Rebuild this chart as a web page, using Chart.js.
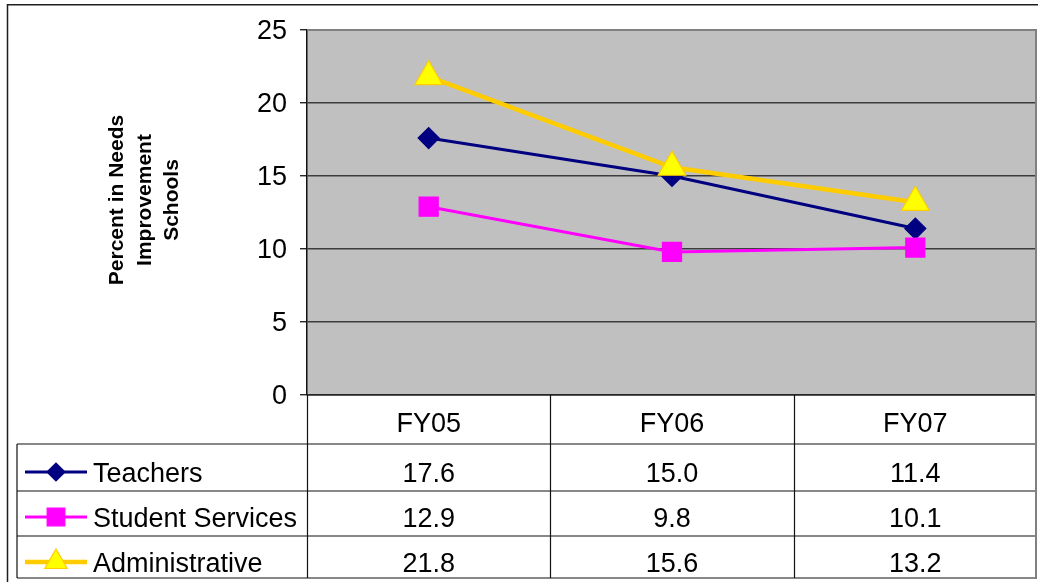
<!DOCTYPE html>
<html>
<head>
<meta charset="utf-8">
<script src="https://cdn.jsdelivr.net/npm/chart.js@4.4.1/dist/chart.umd.min.js"></script>
<style>
  html, body { margin: 0; padding: 0; background: #fff; overflow: hidden; }
  #wrap { width: 1038px; height: 582px; position: relative; }
  canvas { display: block; }
</style>
</head>
<body>
<div id="wrap"><canvas id="c" width="1038" height="582"></canvas></div>
<script>
// Fiscal years and the share of staff in Needs Improvement schools
const years = ['FY05', 'FY06', 'FY07'];
const teachers = [17.6, 15.0, 11.4];
const studentServices = [12.9, 9.8, 10.1];
const administrative = [21.8, 15.6, 13.2];
const seriesNames = ['Teachers', 'Student Services', 'Administrative'];
const yTicks = [0, 5, 10, 15, 20, 25];
const yTitle = ['Percent in Needs', 'Improvement', 'Schools'];

const FONT = '"Liberation Sans", Arial, Helvetica, sans-serif';
const PLOT_LEFT = 307;
const PLOT_RIGHT = 1037;

const seriesStyles = [
  { line: '#000080', fill: '#000080', border: '#000080', lineWidth: 3, style: 'rectRot', radius: 10.5, legendRadius: 9 },
  { line: '#FF00FF', fill: '#FF00FF', border: '#FF00FF', lineWidth: 3, style: 'rect', radius: 13.5, legendRadius: 12.5 },
  { line: '#FFCC00', fill: '#FFFF00', border: '#FFCC00', lineWidth: 4.5, style: 'triangle', radius: 16, legendRadius: 13 }
];
const seriesValues = [teachers, studentServices, administrative];

// Small marker painter for the legend column of the data table
function drawMarker(ctx, style, r, x, y, fill, border) {
  ctx.save();
  ctx.fillStyle = fill;
  ctx.strokeStyle = border;
  ctx.lineWidth = 1.2;
  ctx.beginPath();
  if (style === 'rectRot') {
    ctx.moveTo(x - r, y); ctx.lineTo(x, y - r); ctx.lineTo(x + r, y); ctx.lineTo(x, y + r);
  } else if (style === 'rect') {
    const s = Math.SQRT1_2 * r;
    ctx.rect(x - s, y - s, 2 * s, 2 * s);
  } else {
    const h = r * Math.sqrt(3) / 2;
    ctx.moveTo(x, y - r); ctx.lineTo(x + h, y + r / 2); ctx.lineTo(x - h, y + r / 2);
  }
  ctx.closePath();
  ctx.fill();
  ctx.stroke();
  ctx.restore();
}

// Offsets (px below the plot bottom) of table row edges and text baselines
const rowEdges = [49, 96, 141, 183];
const rowBaselines = [37, 87, 132, 177];
const legendLeft = 17;

const frameAndTable = {
  id: 'frameAndTable',
  beforeDraw(chart) {
    const { ctx, chartArea: a } = chart;
    ctx.save();
    ctx.fillStyle = '#ffffff';
    ctx.fillRect(0, 0, chart.width, chart.height);
    ctx.fillStyle = '#C0C0C0';
    ctx.fillRect(a.left, a.top, a.right - a.left, a.bottom - a.top);
    ctx.restore();
  },
  afterDraw(chart) {
    const { ctx, chartArea: a } = chart;
    const xs = chart.scales.x;
    const centers = years.map((_, i) => xs.getPixelForValue(i));
    const bounds = [a.left];
    for (let i = 0; i < centers.length - 1; i++) bounds.push((centers[i] + centers[i + 1]) / 2);
    bounds.push(a.right);
    const b = a.bottom;

    ctx.save();
    // outer frame
    ctx.strokeStyle = '#1e1e1e';
    ctx.lineWidth = 1.5;
    ctx.beginPath();
    ctx.moveTo(7.5, chart.height); ctx.lineTo(7.5, 4.75); ctx.lineTo(chart.width, 4.75);
    ctx.stroke();

    // plot border (top and right, grey)
    ctx.strokeStyle = '#808080';
    ctx.lineWidth = 2;
    ctx.beginPath();
    ctx.moveTo(a.left, a.top); ctx.lineTo(a.right, a.top);
    ctx.moveTo(a.right - 1, a.top); ctx.lineTo(a.right - 1, b + rowEdges[3] + 1);
    ctx.stroke();

    // table grid
    ctx.strokeStyle = '#111111';
    ctx.lineWidth = 1.2;
    ctx.beginPath();
    ctx.moveTo(a.left, b); ctx.lineTo(a.right - 2, b);
    rowEdges.forEach(off => { ctx.moveTo(legendLeft, b + off); ctx.lineTo(a.right - 2, b + off); });
    ctx.moveTo(legendLeft, b + rowEdges[0]); ctx.lineTo(legendLeft, b + rowEdges[3]);
    bounds.slice(0, -1).forEach(x => { ctx.moveTo(Math.round(x) + 0.5, b); ctx.lineTo(Math.round(x) + 0.5, b + rowEdges[3]); });
    ctx.stroke();

    // header row: fiscal years
    ctx.fillStyle = '#000';
    ctx.font = '27px ' + FONT;
    ctx.textAlign = 'center';
    ctx.textBaseline = 'alphabetic';
    years.forEach((y, i) => ctx.fillText(y, centers[i], b + rowBaselines[0]));

    // data rows
    seriesValues.forEach((vals, r) => {
      const yb = b + rowBaselines[r + 1];
      vals.forEach((v, i) => ctx.fillText(v.toFixed(1), centers[i], yb));
    });

    // legend column
    ctx.textAlign = 'left';
    seriesNames.forEach((name, r) => {
      const st = seriesStyles[r];
      const yb = b + rowBaselines[r + 1];
      const ym = yb - 10;
      ctx.strokeStyle = st.line;
      ctx.lineWidth = st.lineWidth;
      ctx.beginPath();
      ctx.moveTo(25, ym); ctx.lineTo(87, ym);
      ctx.stroke();
      drawMarker(ctx, st.style, st.legendRadius, 56, ym, st.fill, st.border);
      ctx.fillStyle = '#000';
      ctx.fillText(name, 93, yb);
    });

    // rotated axis title
    ctx.font = 'bold 21px ' + FONT;
    ctx.textAlign = 'center';
    const titleBaselines = [123, 150.5, 178];
    yTitle.forEach((line, i) => {
      ctx.save();
      ctx.translate(titleBaselines[i], 200);
      ctx.rotate(-Math.PI / 2);
      ctx.fillText(line, 0, 0);
      ctx.restore();
    });
    ctx.restore();
  }
};

// Pin the plot area horizontally to its fixed frame
const plotFrame = {
  id: 'plotFrame',
  afterLayout(chart) {
    const a = chart.chartArea;
    a.left = PLOT_LEFT;
    a.right = PLOT_RIGHT;
    a.width = PLOT_RIGHT - PLOT_LEFT;
    const xs = chart.scales.x;
    xs.left = PLOT_LEFT;
    xs.right = PLOT_RIGHT;
    xs.width = PLOT_RIGHT - PLOT_LEFT;
    xs.configure();
    const ys = chart.scales.y;
    ys.left = 0;
    ys.right = PLOT_LEFT;
    ys.width = PLOT_LEFT;
  }
};

const datasets = seriesNames.map((name, i) => {
  const st = seriesStyles[i];
  return {
    label: name,
    data: seriesValues[i],
    borderColor: st.line,
    borderWidth: st.lineWidth,
    backgroundColor: st.fill,
    pointStyle: st.style,
    pointRadius: st.radius,
    pointHoverRadius: st.radius,
    pointBackgroundColor: st.fill,
    pointBorderColor: st.border,
    pointBorderWidth: 1.2,
    tension: 0,
    fill: false,
    order: seriesNames.length - i
  };
});

new Chart(document.getElementById('c'), {
  type: 'line',
  data: { labels: years, datasets },
  plugins: [plotFrame, frameAndTable],
  options: {
    responsive: false,
    animation: false,
    devicePixelRatio: 1,
    events: [],
    layout: { padding: { left: 0, top: 30, right: 1, bottom: 187 } },
    plugins: { legend: { display: false }, tooltip: { enabled: false } },
    scales: {
      x: {
        type: 'category',
        offset: true,
        display: false
      },
      y: {
        min: 0,
        max: 25,
        afterBuildTicks(scale) { scale.ticks = yTicks.map(v => ({ value: v })); },
        afterFit(scale) { scale.width = PLOT_LEFT; },
        ticks: {
          color: '#000',
          padding: 13,
          labelOffset: 2,
          font: { family: FONT, size: 27 }
        },
        grid: {
          color: '#3c3c3c',
          lineWidth: 1.5,
          tickColor: '#000',
          tickLength: 7,
          tickWidth: 1.2
        },
        border: { display: true, color: '#111', width: 1.5 }
      }
    }
  }
});
</script>
</body>
</html>
